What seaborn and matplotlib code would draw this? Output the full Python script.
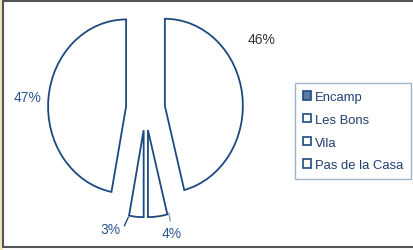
import matplotlib
matplotlib.use("Agg")
import matplotlib.pyplot as plt
from matplotlib.patches import Patch, Rectangle
from matplotlib.lines import Line2D
import seaborn as sns

regions = ["Encamp", "Les Bons", "Vila", "Pas de la Casa"]
shares = [46, 4, 3, 47]
legend_fill = ["#5b7ca6", "white", "white", "white"]

sns.set_theme(style="white")
plt.rcParams["font.family"] = ["Liberation Sans", "DejaVu Sans"]

W, H = 414, 251
fig = plt.figure(figsize=(W / 100, H / 100), dpi=100)
fig.patch.set_facecolor("white")

# pie centre in pixels (from top), x/y scale per data unit
cx, cy, sx, sy = 145.5, 109.5, 78, 87
xl, yl = 1.6, 1.5
ax = fig.add_axes([(cx - xl * sx) / W, (H - cy - yl * sy) / H,
                   2 * xl * sx / W, 2 * yl * sy / H])

edge = "#1c4a80"
wedges, _ = ax.pie(shares, startangle=90, counterclock=False,
                   explode=[0.25] * len(shares), colors=["white"] * len(shares),
                   wedgeprops=dict(edgecolor=edge, linewidth=1.3))
ax.set_aspect("auto")
ax.set_xlim(-xl, xl)
ax.set_ylim(-yl, yl)
ax.axis("off")

lab_blue = "#2b5a92"
ax.text(1.49, 0.80, f"{shares[0]}%", ha="center", va="center", fontsize=10, color="#333333")
ax.text(-1.51, 0.13, f"{shares[3]}%", ha="center", va="center", fontsize=10, color=lab_blue)
ax.annotate(f"{shares[2]}%", xy=(-0.22, -1.25), xytext=(-0.45, -1.39),
            ha="center", va="center", fontsize=10, color=lab_blue,
            arrowprops=dict(arrowstyle="-", color=edge, lw=1, shrinkA=1, shrinkB=0,
                            connectionstyle="angle,angleA=0,angleB=65,rad=0"))
ax.annotate(f"{shares[1]}%", xy=(0.30, -1.20), xytext=(0.34, -1.43),
            ha="center", va="center", fontsize=10, color=lab_blue,
            arrowprops=dict(arrowstyle="-", color="#8aa0bd", lw=1, shrinkA=1, shrinkB=0))

handles = [Patch(facecolor=c, edgecolor=edge, linewidth=1.2) for c in legend_fill]
leg = fig.legend(handles, regions, loc="upper left",
                 bbox_to_anchor=(295 / W, 1 - 84 / H), bbox_transform=fig.transFigure,
                 fontsize=9.4, frameon=True, fancybox=False, edgecolor="#8aa0bd",
                 handlelength=0.6, handleheight=0.6, handletextpad=0.3,
                 labelspacing=0.82, borderpad=0.62, borderaxespad=0)
leg.get_frame().set_linewidth(1)
for t in leg.get_texts():
    t.set_color("#1f3f70")

# outer frame
fig.add_artist(Rectangle((0, 0), 3 / W, 1, transform=fig.transFigure,
                         facecolor="#efe6bd", edgecolor="none"))
fig.add_artist(Rectangle((0, 1 - 1 / H), 1, 1 / H, transform=fig.transFigure,
                         facecolor="#efe6bd", edgecolor="none"))
frame_c = "#555555"
fig.add_artist(Line2D([3.5 / W, 3.5 / W], [1 - 1.5 / H, 1 - 248 / H],
                      transform=fig.transFigure, color=frame_c, lw=1.5))
fig.add_artist(Line2D([3 / W, 1], [1 - 1.8 / H, 1 - 1.8 / H],
                      transform=fig.transFigure, color=frame_c, lw=1.5))
fig.add_artist(Line2D([3 / W, 1], [1 - 247.5 / H, 1 - 247.5 / H],
                      transform=fig.transFigure, color=frame_c, lw=1.5))

fig.savefig("out.png", dpi=100)
